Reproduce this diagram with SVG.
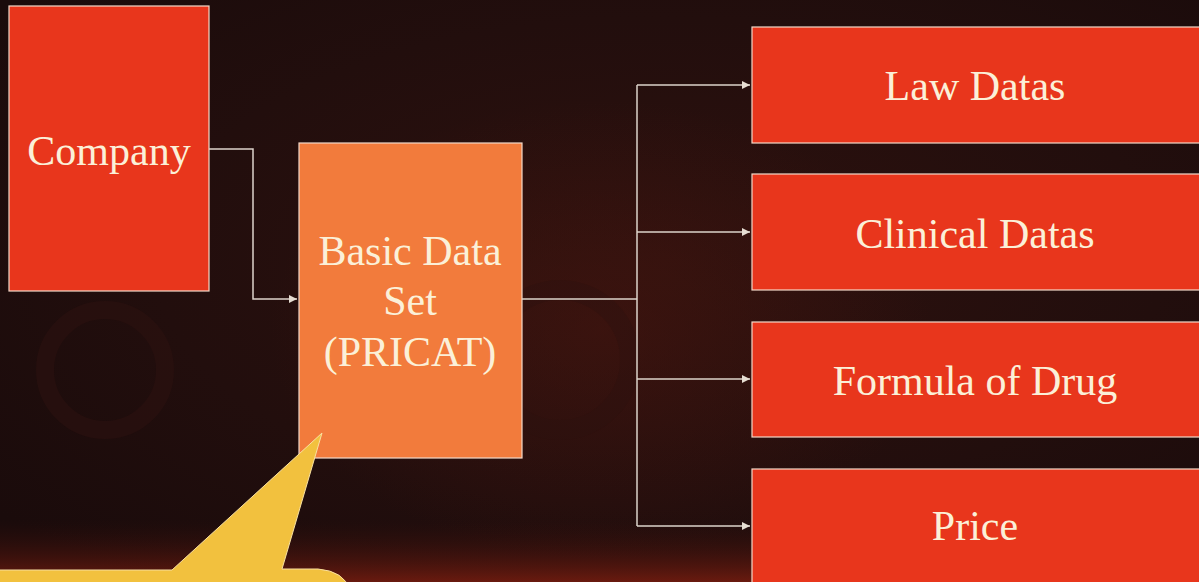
<svg xmlns="http://www.w3.org/2000/svg" width="1199" height="582" viewBox="0 0 1199 582">
<defs>
<radialGradient id="bg1" cx="0.55" cy="0.45" r="0.7">
<stop offset="0" stop-color="#2e110e"/>
<stop offset="0.6" stop-color="#220e0d"/>
<stop offset="1" stop-color="#1a0b0b"/>
</radialGradient>
<radialGradient id="glow" cx="0.5" cy="0.5" r="0.5">
<stop offset="0" stop-color="#4a160f" stop-opacity="0.5"/>
<stop offset="1" stop-color="#4a160f" stop-opacity="0"/>
</radialGradient>
<linearGradient id="bottom" x1="0" y1="0" x2="0" y2="1">
<stop offset="0" stop-color="#3a100c" stop-opacity="0"/>
<stop offset="1" stop-color="#8a2010" stop-opacity="0.7"/>
</linearGradient>
<marker id="arr" viewBox="0 0 10 10" refX="10" refY="5" markerWidth="9" markerHeight="8" markerUnits="userSpaceOnUse" orient="auto">
<path d="M0,0 L10,5 L0,10 Z" fill="#e6ddd2"/>
</marker>
</defs>
<style>
.bx{stroke:#f3d9c8;stroke-width:1.2}
.red{fill:#e8361c}
.org{fill:#f27b3c}
.t{font-family:"Liberation Serif","Times New Roman",serif;font-size:42px;fill:#fbf0d8;text-anchor:middle}
.c{fill:none;stroke:#ddd4cb;stroke-width:1.5}
</style>
<rect width="1199" height="582" fill="url(#bg1)"/>
<ellipse cx="600" cy="330" rx="330" ry="230" fill="url(#glow)"/>
<rect x="0" y="520" width="1199" height="62" fill="url(#bottom)"/>
<circle cx="105" cy="370" r="60" fill="none" stroke="#2e1210" stroke-width="18" opacity="0.5"/>
<circle cx="560" cy="360" r="70" fill="none" stroke="#2e1210" stroke-width="20" opacity="0.4"/>

<g id="company">
<rect class="bx red" x="9" y="6" width="200" height="285"/>
<text class="t" x="109" y="165">Company</text>
</g>
<g id="basic">
<rect class="bx org" x="299" y="143" width="223" height="315"/>
<text class="t" x="410" y="265">Basic Data</text>
<text class="t" x="410" y="315">Set</text>
<text class="t" x="410" y="366">(PRICAT)</text>
</g>
<g id="law">
<rect class="bx red" x="752" y="27" width="460" height="116"/>
<text class="t" x="975" y="100">Law Datas</text>
</g>
<g id="clinical">
<rect class="bx red" x="752" y="174" width="460" height="116"/>
<text class="t" x="975" y="248">Clinical Datas</text>
</g>
<g id="formula">
<rect class="bx red" x="752" y="322" width="460" height="115"/>
<text class="t" x="975" y="395">Formula of Drug</text>
</g>
<g id="price">
<rect class="bx red" x="752" y="469" width="460" height="130"/>
<text class="t" x="975" y="540">Price</text>
</g>

<g id="connectors">
<path class="c" d="M209,149 H253 V299 H297" marker-end="url(#arr)"/>
<path class="c" d="M522,299 H637"/>
<path class="c" d="M637,85 V526"/>
<path class="c" d="M637,85 H750" marker-end="url(#arr)"/>
<path class="c" d="M637,232 H750" marker-end="url(#arr)"/>
<path class="c" d="M637,379 H750" marker-end="url(#arr)"/>
<path class="c" d="M637,526 H750" marker-end="url(#arr)"/>
</g>

<g id="callout">
<path d="M322,433 L282,569 L318,569 Q344,571 350,590 L-5,590 L-5,570 L172,570 Z" fill="#f2c13e" stroke="#f8e0a0" stroke-width="1"/>
</g>
</svg>
